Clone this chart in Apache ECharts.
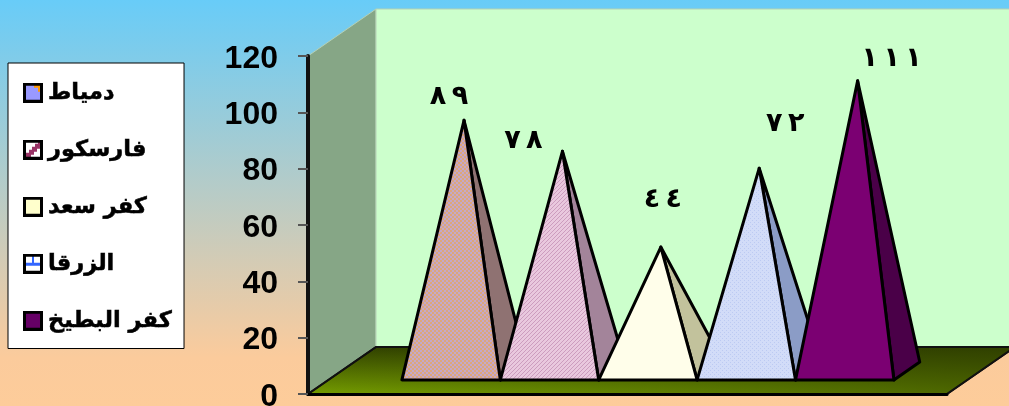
<!DOCTYPE html>
<html>
<head>
<meta charset="utf-8">
<style>
  html, body { margin: 0; padding: 0; }
  #chart { width: 1009px; height: 406px; }
</style>
<script src="https://cdn.jsdelivr.net/npm/echarts@6/dist/echarts.min.js"></script>
</head>
<body>
<div id="chart"></div>
<script>
const regions = ['دمياط', 'فارسكور', 'كفر سعد', 'الزرقا', 'كفر البطيخ']
const heights = [89, 78, 44, 72, 103]
const valueLabels = ['٨\u2009٩', '٧\u2009٨', '٤\u2009٤', '٧\u2009٢', '١\u2009١\u2009١']
const yMax = 120
const yStep = 20

// 3d look, in pixels
const depthX = 68
const depthY = 47
const slotWidth = 98.4
const baseFront = 0.3
const baseBack = 0.68
// the labels were moved by hand in the original
const labelShift = [[-15, -23], [-39, -10], [2, -47], [26, -44], [34, -22]]

function tile(size, draw) {
  const c = document.createElement('canvas')
  c.width = c.height = size
  draw(c.getContext('2d'))
  return c
}

const dotTile = tile(4, g => {
  g.fillStyle = '#c5a9c8'; g.fillRect(0, 0, 4, 4)
  g.fillStyle = '#dca67c'; g.fillRect(0, 0, 2, 2); g.fillRect(2, 2, 2, 2)
})
const diagTile = tile(4, g => {
  g.fillStyle = '#e9c8de'; g.fillRect(0, 0, 4, 4)
  g.fillStyle = '#cc9cbe'
  for (let i = 0; i < 4; i++) g.fillRect(i, 3 - i, 1, 1)
})
const lineTile = tile(4, g => {
  g.fillStyle = '#d2dcf8'; g.fillRect(0, 0, 4, 4)
  g.fillStyle = '#bccaf2'; g.fillRect(0, 0, 1, 1); g.fillRect(2, 2, 1, 1)
})

const frontFill = [
  { image: dotTile, repeat: 'repeat' },
  { image: diagTile, repeat: 'repeat' },
  '#fffeea',
  { image: lineTile, repeat: 'repeat' },
  '#7b0072'
]
const sideFill = ['#8f7272', '#a3849a', '#c2c29c', '#8b9cc6', '#4a0048']

// legend swatches, the original shows the pattern fill at large scale
const swatchDraw = [
  g => { g.fillStyle = '#9999ff'; g.fillRect(0, 0, 20, 20); g.fillStyle = '#ff9900'; g.fillRect(11, 2, 7, 3); g.fillRect(15, 2, 3, 7) },
  g => {
    g.fillStyle = '#fff'; g.fillRect(0, 0, 20, 20); g.fillStyle = '#993366'
    for (let i = 0; i < 5; i++) g.fillRect(3 + i * 3, 13 - i * 3, 5, 5)
  },
  g => { g.fillStyle = '#ffffcc'; g.fillRect(0, 0, 20, 20) },
  g => { g.fillStyle = '#fff'; g.fillRect(0, 0, 20, 20); g.fillStyle = '#3366ff'; g.fillRect(2, 9, 16, 3); g.fillRect(9, 2, 2, 8) },
  g => { g.fillStyle = '#660066'; g.fillRect(0, 0, 20, 20) }
]
const swatches = swatchDraw.map(draw => tile(20, g => {
  draw(g)
  g.strokeStyle = '#000'; g.lineWidth = 3; g.strokeRect(1.5, 1.5, 17, 17)
}).toDataURL())

function poly(points, fill, stroke, lineWidth) {
  return { type: 'polygon', shape: { points }, style: { fill, stroke, lineWidth, lineJoin: 'round' } }
}

function renderWalls(params) {
  const { x, y, width, height } = params.coordSys
  const bottom = y + height
  const right = x + width
  const floor = [[x, bottom], [x + depthX, bottom - depthY], [right + depthX, bottom - depthY], [right, bottom]]
  return {
    type: 'group',
    children: [
      poly([[x, y], [x + depthX, y - depthY], [x + depthX, bottom - depthY], [x, bottom]], '#86a686', '#b5d1b5', 1),
      poly([[x + depthX, y - depthY], [right + depthX, y - depthY], [right + depthX, bottom - depthY], [x + depthX, bottom - depthY]], '#ccffcc', '#b5d1b5', 1),
      poly(floor, { type: 'linear', x: 0, y: 1, x2: 0, y2: 0, colorStops: [{ offset: 0, color: '#769e00' }, { offset: 1, color: '#2f3f00' }] }, '#111', 2),
      poly(floor, { type: 'linear', x: 0, y: 0, x2: 1, y2: 0, colorStops: [{ offset: 0, color: 'rgba(47,63,0,0)' }, { offset: 1, color: 'rgba(47,63,0,0.6)' }] }, '#111', 2)
    ]
  }
}

function renderPyramid(i) {
  return function (params, api) {
    const top = api.coord([0, api.value(1)])
    const clusterX = top[0] + depthX * baseFront
    const x0 = clusterX + (i - regions.length / 2) * slotWidth
    const x1 = x0 + slotWidth
    const zero = api.coord([0, 0])[1]
    const frontY = zero - depthY * baseFront
    const sideDx = depthX * (baseBack - baseFront)
    const sideDy = depthY * (baseBack - baseFront)
    const mid = (baseFront + baseBack) / 2
    const apex = [(x0 + x1) / 2 + sideDx / 2, top[1] - depthY * mid]
    return {
      type: 'group',
      children: [
        poly([[x1, frontY], [x1 + sideDx, frontY - sideDy], apex], sideFill[i], '#000', 3),
        poly([[x0, frontY], [x1, frontY], apex], frontFill[i], '#000', 3),
        {
          type: 'text',
          style: {
            text: '\u202D' + valueLabels[i],
            x: apex[0] + labelShift[i][0],
            y: apex[1] + labelShift[i][1],
            align: 'center',
            verticalAlign: 'middle',
            font: 'bold 27px "DejaVu Sans"',
            fill: '#000'
          }
        }
      ]
    }
  }
}

const chart = echarts.init(document.getElementById('chart'))
chart.setOption({
  animation: false,
  backgroundColor: {
    type: 'linear', x: 0, y: 0, x2: 0, y2: 1,
    colorStops: [{ offset: 0, color: '#68ccf8' }, { offset: 0.88, color: '#fbcb9c' }, { offset: 1, color: '#fdcc9a' }]
  },
  grid: { left: 308, top: 56, width: 639, height: 338, outerBoundsMode: 'none' },
  legend: {
    left: 8, top: 63,
    orient: 'vertical',
    padding: [18, 12, 16, 15],
    itemWidth: 20, itemHeight: 20, itemGap: 33.5,
    backgroundColor: '#fff', borderColor: '#000', borderWidth: 1,
    selectedMode: false,
    textStyle: {
      color: '#000', fontWeight: 'bold', fontSize: 22.5, fontFamily: '"DejaVu Sans"',
      textBorderColor: '#000', textBorderWidth: 0.5
    },
    data: regions.map((name, i) => ({ name, icon: 'image://' + swatches[i] }))
  },
  xAxis: {
    type: 'category', data: [''], z: 2,
    axisLine: { lineStyle: { color: '#000', width: 3 } },
    axisTick: { show: false }, axisLabel: { show: false }
  },
  yAxis: {
    type: 'value', min: 0, max: yMax, interval: yStep, z: 2,
    splitLine: { show: false },
    axisLine: { show: true, lineStyle: { color: '#111', width: 4 } },
    axisTick: { show: true, length: 10, lineStyle: { color: '#555', width: 2 } },
    axisLabel: {
      margin: 30,
      formatter: '{v|{value}}',
      rich: {
        v: { color: '#000', fontFamily: '"Liberation Sans"', fontWeight: 'bold', fontSize: 32, padding: [6, 0, 0, 0] }
      }
    }
  },
  series: [
    { type: 'custom', name: 'walls', z: 1, silent: true, renderItem: renderWalls, data: [[0, 0]] },
    ...regions.map((name, i) => ({
      type: 'custom', name, z: 3, silent: true,
      renderItem: renderPyramid(i),
      encode: { x: 0, y: 1 },
      data: [[0, heights[i]]]
    }))
  ]
})
</script>
</body>
</html>
